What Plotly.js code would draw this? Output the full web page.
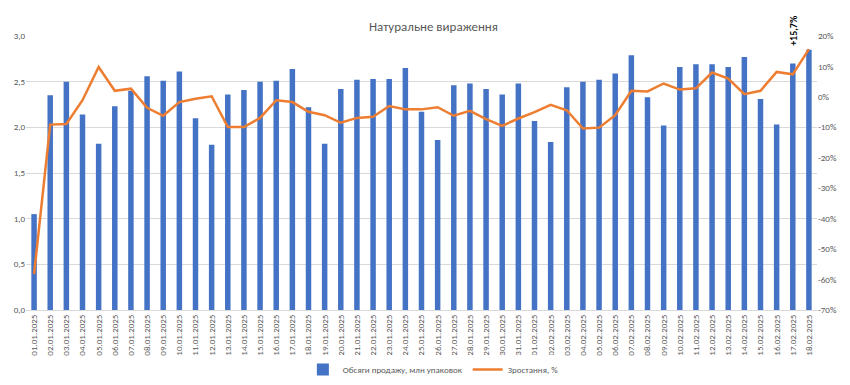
<!DOCTYPE html>
<html>
<head>
<meta charset="utf-8">
<script src="https://cdn.plot.ly/plotly-3.0.1.min.js"></script>
<style>html,body{margin:0;padding:0;background:#fff;}#chart{width:850px;height:385px;}</style>
</head>
<body>
<div id="chart"></div>
<script>
const dates = ["01.01.2025","02.01.2025","03.01.2025","04.01.2025","05.01.2025","06.01.2025","07.01.2025","08.01.2025","09.01.2025","10.01.2025","11.01.2025","12.01.2025","13.01.2025","14.01.2025","15.01.2025","16.01.2025","17.01.2025","18.01.2025","19.01.2025","20.01.2025","21.01.2025","22.01.2025","23.01.2025","24.01.2025","25.01.2025","26.01.2025","27.01.2025","28.01.2025","29.01.2025","30.01.2025","31.01.2025","01.02.2025","02.02.2025","03.02.2025","04.02.2025","05.02.2025","06.02.2025","07.02.2025","08.02.2025","09.02.2025","10.02.2025","11.02.2025","12.02.2025","13.02.2025","14.02.2025","15.02.2025","16.02.2025","17.02.2025","18.02.2025"];
const sales = [1.05,2.35,2.50,2.14,1.82,2.23,2.40,2.56,2.51,2.61,2.10,1.81,2.36,2.41,2.50,2.51,2.64,2.22,1.82,2.42,2.52,2.53,2.53,2.65,2.17,1.86,2.46,2.48,2.42,2.36,2.48,2.07,1.84,2.44,2.50,2.52,2.59,2.79,2.33,2.02,2.66,2.69,2.69,2.66,2.77,2.31,2.03,2.70,2.85];
const growth = [-58.2,-9.1,-8.9,-1.1,9.8,2.0,2.7,-3.6,-6.2,-1.7,-0.6,0.2,-9.9,-9.9,-6.9,-1.1,-1.7,-4.9,-6.0,-8.5,-6.9,-6.5,-3.0,-4.1,-4.1,-3.4,-6.2,-4.6,-7.3,-9.5,-7.1,-5.0,-2.6,-4.4,-10.4,-10.1,-6.0,2.0,1.8,4.4,2.4,2.8,8.0,6.0,0.9,2.0,8.2,7.4,15.7];
const leftTicks = [0,0.5,1,1.5,2,2.5,3];
const leftTickText = ["0,0","0,5","1,0","1,5","2,0","2,5","3,0"];
const rightTicks = [-70,-60,-50,-40,-30,-20,-10,0,10,20];
const rightTickText = ["-70%","-60%","-50%","-40%","-30%","-20%","-10%","0%","10%","20%"];
const seriesNames = ["Обсяги продажу, млн упаковок","Зростання, %"];
const titleText = "Натуральне вираження";
const labelText = "+15,7%";

const font = "Calibri, Carlito, 'Liberation Sans', Arial, sans-serif";
const gray = "#595959";

const traces = [
  {type:"bar", x:dates, y:sales, name:seriesNames[0], marker:{color:"#4472c4"}, yaxis:"y"},
  {type:"scatter", mode:"lines", x:dates, y:growth, name:seriesNames[1], line:{color:"#ed7d31", width:2.5}, yaxis:"y2"}
];
const layout = {
  width:850, height:385,
  margin:{l:26, r:33, t:36, b:75, autoexpand:false},
  paper_bgcolor:"#fff", plot_bgcolor:"#fff",
  font:{family:font, color:gray, size:9},
  title:{text:titleText, x:0.51, xanchor:"center", y:0.932, yanchor:"middle", font:{size:13, color:gray, family:font}},
  bargap:0.66,
  showlegend:true,
  legend:{orientation:"h", x:0.515, xanchor:"center", yref:"container", y:0.04, yanchor:"middle", font:{size:9, color:gray}, traceorder:"normal"},
  xaxis:{type:"category", tickangle:-90, tickfont:{size:9, color:gray}, showgrid:false, showline:true, linecolor:"#d9d9d9", ticks:"", automargin:false},
  yaxis:{range:[0,3], tickvals:leftTicks, ticktext:leftTickText, showgrid:true, gridcolor:"#d9d9d9", zeroline:false, tickfont:{size:9, color:gray}, ticks:"", automargin:false},
  yaxis2:{range:[-70,20], overlaying:"y", side:"right", tickvals:rightTicks, ticktext:rightTickText, showgrid:false, zeroline:false, tickfont:{size:9, color:gray}, ticks:"", automargin:false},
  annotations:[{x:dates[47], y:growth[48]+0.5, xref:"x", yref:"y2", text:"<b>"+labelText+"</b>", textangle:-90, showarrow:false, xanchor:"center", yanchor:"bottom", font:{size:10, color:"#000", family:font}}]
};
Plotly.newPlot("chart", traces, layout, {displayModeBar:false, staticPlot:true});
</script>
</body>
</html>
